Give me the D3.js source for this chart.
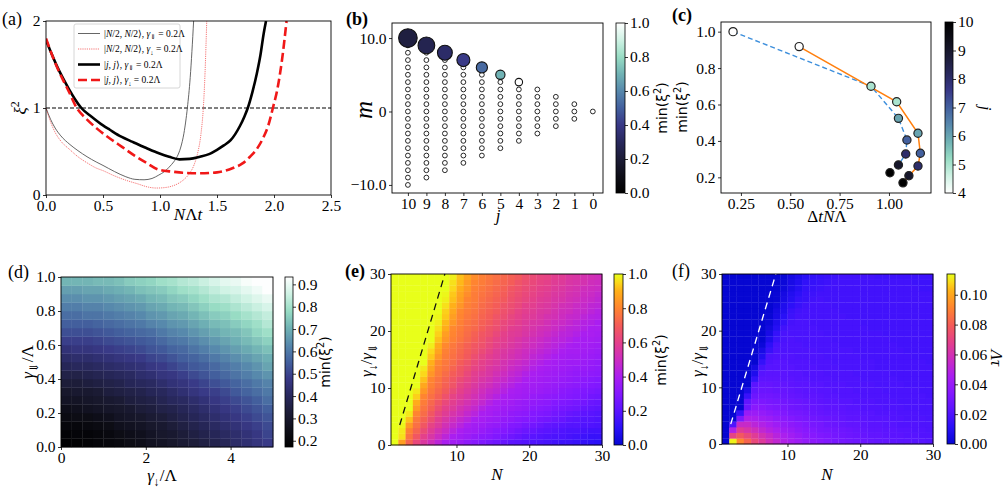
<!DOCTYPE html>
<html>
<head>
<meta charset="utf-8">
<script src="https://cdn.jsdelivr.net/npm/d3@7"></script>
<style>
body { margin: 0; background: #fff; }
</style>
</head>
<body>
<script>
var width = 1008, height = 495;
var serif = '"Liberation Serif", "DejaVu Serif", serif';
var sans = '"DejaVu Sans", sans-serif';
var FS = 15.5;

// ---------- data ----------
// (a) squeezing parameter vs N*Lambda*t
var aGrayT  = [0, 0.04, 0.08, 0.13, 0.21, 0.28, 0.36, 0.44, 0.5, 0.6, 0.7, 0.78, 0.86, 0.93, 0.99, 1.04, 1.08, 1.12, 1.15, 1.18, 1.21, 1.24, 1.265, 1.28, 1.295];
var aGrayXi = [1.0, 0.87, 0.77, 0.68, 0.58, 0.51, 0.44, 0.38, 0.34, 0.27, 0.21, 0.18, 0.175, 0.19, 0.23, 0.27, 0.32, 0.38, 0.44, 0.54, 0.71, 1.0, 1.35, 1.65, 2.0];
var aDotT   = [0, 0.04, 0.08, 0.13, 0.21, 0.28, 0.36, 0.44, 0.5, 0.6, 0.7, 0.8, 0.9, 0.97, 1.04, 1.1, 1.17, 1.22, 1.26, 1.3, 1.33, 1.36, 1.38, 1.395, 1.41];
var aDotXi  = [1.0, 0.84, 0.72, 0.62, 0.52, 0.44, 0.37, 0.31, 0.28, 0.22, 0.17, 0.13, 0.09, 0.08, 0.085, 0.1, 0.14, 0.19, 0.25, 0.35, 0.48, 0.71, 1.0, 1.4, 2.0];
var aBlackT  = [0, 0.05, 0.1, 0.15, 0.2, 0.25, 0.31, 0.4, 0.5, 0.56, 0.66, 0.76, 0.88, 0.99, 1.08, 1.17, 1.26, 1.35, 1.43, 1.5, 1.56, 1.62, 1.66, 1.7, 1.74, 1.77, 1.81, 1.85, 1.88, 1.91, 1.93];
var aBlackXi = [1.78, 1.62, 1.47, 1.34, 1.22, 1.11, 1.0, 0.9, 0.8, 0.75, 0.67, 0.61, 0.54, 0.48, 0.44, 0.41, 0.415, 0.44, 0.47, 0.52, 0.57, 0.63, 0.7, 0.79, 0.9, 1.0, 1.18, 1.4, 1.6, 1.86, 2.0];
var aRedT  = [0, 0.05, 0.1, 0.15, 0.2, 0.27, 0.35, 0.45, 0.56, 0.67, 0.78, 0.88, 0.99, 1.1, 1.2, 1.35, 1.5, 1.64, 1.72, 1.79, 1.85, 1.91, 1.95, 1.99, 2.03, 2.07, 2.11];
var aRedXi = [1.8, 1.62, 1.46, 1.32, 1.19, 1.0, 0.88, 0.76, 0.65, 0.55, 0.45, 0.37, 0.29, 0.27, 0.255, 0.25, 0.26, 0.31, 0.36, 0.44, 0.53, 0.67, 0.8, 1.0, 1.22, 1.55, 2.0];
var aXTicks = [0, 0.5, 1.0, 1.5, 2.0, 2.5];
var aYTicks = [0, 1, 2];

// (b) Dicke ladder, (c) min squeezing vs time of minimum
var bJ = [10, 9, 8, 7, 6, 5, 4, 3, 2, 1, 0];
var cJ = [4, 5, 6, 7, 8, 9, 10];
var cBlueT = [0.21, 0.909, 1.048, 1.091, 1.085, 1.048, 1.005];
var cBlueXi = [1.0, 0.70, 0.524, 0.405, 0.328, 0.268, 0.225];
var cOrangeT = [0.545, 1.039, 1.147, 1.159, 1.147, 1.101, 1.071];
var cOrangeXi = [0.918, 0.615, 0.442, 0.332, 0.262, 0.209, 0.170];

// (d) min squeezing over gamma_down/Lambda (cols) and gamma_collective/Lambda (rows, bottom->top)
var dMin = [
  [.18,.18,.19,.20,.21,.22,.24,.25,.27,.28,.30,.32,.33,.35,.37,.39,.42,.44,.46,.48],
  [.19,.20,.20,.21,.22,.24,.25,.26,.28,.30,.31,.33,.35,.37,.39,.41,.43,.45,.47,.50],
  [.21,.21,.22,.23,.24,.26,.27,.28,.30,.31,.33,.35,.37,.39,.41,.43,.45,.47,.49,.51],
  [.23,.24,.24,.25,.26,.28,.29,.30,.32,.33,.35,.37,.39,.41,.43,.45,.47,.49,.51,.53],
  [.25,.26,.27,.28,.29,.30,.31,.33,.34,.36,.37,.39,.41,.43,.45,.47,.49,.51,.53,.55],
  [.28,.28,.29,.30,.31,.32,.34,.35,.36,.38,.40,.41,.43,.45,.47,.49,.51,.53,.55,.58],
  [.30,.31,.31,.32,.34,.35,.36,.37,.39,.40,.42,.44,.46,.48,.49,.51,.54,.56,.58,.60],
  [.33,.33,.34,.35,.36,.37,.39,.40,.41,.43,.45,.46,.48,.50,.52,.54,.56,.58,.60,.62],
  [.36,.36,.37,.38,.39,.40,.41,.43,.44,.46,.47,.49,.51,.53,.55,.57,.59,.61,.63,.65],
  [.39,.40,.40,.41,.42,.43,.44,.45,.47,.48,.50,.52,.54,.55,.57,.59,.61,.63,.65,.68],
  [.42,.43,.43,.44,.45,.46,.47,.48,.50,.51,.53,.55,.56,.58,.60,.62,.64,.66,.68,.70],
  [.45,.46,.46,.47,.48,.49,.50,.51,.53,.54,.56,.57,.59,.61,.63,.65,.67,.69,.71,.73],
  [.49,.49,.49,.50,.51,.52,.53,.54,.55,.57,.59,.60,.62,.64,.66,.68,.70,.72,.74,.76],
  [.52,.52,.52,.53,.54,.55,.56,.57,.58,.60,.62,.63,.65,.67,.69,.71,.72,.74,.77,.79],
  [.55,.55,.55,.56,.57,.58,.59,.60,.62,.63,.65,.66,.68,.70,.72,.73,.75,.77,.79,.82],
  [.58,.58,.59,.59,.60,.61,.62,.63,.65,.66,.68,.69,.71,.73,.75,.76,.78,.80,.82,.84],
  [.61,.61,.62,.62,.63,.64,.65,.66,.68,.69,.71,.72,.74,.76,.78,.79,.81,.83,.85,.87],
  [.64,.64,.65,.65,.66,.67,.68,.69,.71,.72,.74,.75,.77,.79,.81,.82,.84,.86,.88,.90],
  [.67,.67,.68,.68,.69,.70,.71,.73,.74,.75,.77,.79,.80,.82,.84,.86,.87,.89,.91,.93],
  [.71,.71,.71,.72,.72,.73,.75,.76,.77,.79,.80,.82,.83,.85,.87,.89,.90,.92,.93,.93]
];

// (e) min squeezing, columns N = 2..30, rows gamma ratio 0..29 (bottom->top)
var eMin = [
  [1,.86,.72,.63,.56,.51,.45,.40,.38,.36,.33,.31,.29,.27,.25,.23,.21,.20,.19,.18,.17,.16,.15,.14,.14,.13,.12,.11,.10],
  [1,.96,.76,.68,.60,.55,.50,.45,.40,.38,.36,.34,.32,.31,.29,.27,.25,.23,.21,.20,.19,.18,.17,.17,.16,.15,.14,.13,.13],
  [1,.97,.79,.72,.64,.58,.53,.49,.44,.40,.38,.37,.35,.33,.31,.30,.28,.26,.24,.23,.21,.20,.19,.18,.17,.17,.16,.15,.15],
  [1,.99,.85,.75,.68,.61,.57,.52,.48,.44,.40,.38,.37,.35,.34,.32,.30,.29,.27,.26,.24,.22,.21,.20,.19,.19,.18,.18,.17],
  [1,1,.92,.77,.71,.65,.59,.55,.51,.47,.44,.40,.39,.37,.36,.34,.33,.31,.30,.29,.27,.26,.24,.23,.21,.20,.19,.19,.18],
  [1,1,.97,.80,.74,.68,.62,.58,.54,.51,.47,.44,.40,.39,.37,.36,.34,.33,.32,.30,.29,.28,.26,.25,.23,.22,.21,.20,.19],
  [1,1,1,.85,.76,.71,.65,.60,.57,.53,.50,.47,.43,.40,.39,.37,.36,.35,.34,.32,.31,.30,.28,.27,.26,.25,.23,.22,.21],
  [1,1,1,.89,.78,.73,.68,.63,.59,.56,.53,.50,.47,.43,.40,.39,.38,.36,.35,.34,.33,.32,.30,.29,.28,.27,.26,.24,.23],
  [1,1,1,.94,.80,.75,.71,.66,.61,.58,.55,.52,.49,.46,.43,.40,.39,.38,.37,.35,.34,.33,.32,.31,.30,.29,.28,.26,.25],
  [1,1,1,.97,.84,.77,.73,.69,.64,.60,.57,.54,.51,.48,.46,.43,.40,.39,.38,.37,.36,.35,.34,.32,.31,.30,.29,.28,.27],
  [1,1,1,1,.88,.79,.75,.71,.67,.62,.59,.56,.53,.51,.48,.45,.43,.40,.39,.38,.37,.36,.35,.34,.33,.32,.31,.30,.29],
  [1,1,1,1,.92,.80,.76,.72,.68,.64,.61,.58,.55,.53,.50,.48,.45,.43,.40,.39,.38,.37,.36,.35,.34,.33,.32,.31,.30],
  [1,1,1,1,.95,.84,.78,.74,.70,.67,.63,.59,.57,.55,.52,.50,.47,.45,.42,.40,.39,.38,.37,.36,.35,.34,.34,.33,.32],
  [1,1,1,1,.97,.87,.79,.76,.72,.68,.65,.61,.59,.56,.54,.52,.49,.47,.45,.42,.40,.39,.38,.37,.36,.35,.35,.34,.33],
  [1,1,1,1,1,.90,.81,.77,.74,.70,.67,.63,.60,.58,.56,.53,.51,.49,.47,.44,.42,.40,.39,.38,.37,.37,.36,.35,.34],
  [1,1,1,1,1,.93,.84,.78,.75,.72,.69,.65,.62,.59,.57,.55,.53,.51,.49,.46,.44,.42,.40,.39,.38,.38,.37,.36,.35],
  [1,1,1,1,1,.95,.87,.79,.76,.73,.70,.67,.64,.61,.58,.56,.54,.52,.50,.48,.46,.44,.42,.40,.39,.39,.38,.37,.36],
  [1,1,1,1,1,.98,.89,.81,.77,.74,.71,.68,.66,.63,.60,.58,.56,.54,.52,.50,.48,.46,.44,.42,.40,.39,.39,.38,.37],
  [1,1,1,1,1,1,.92,.84,.79,.76,.73,.70,.67,.64,.61,.59,.57,.55,.53,.51,.49,.47,.45,.44,.42,.40,.39,.39,.38],
  [1,1,1,1,1,1,.94,.86,.80,.77,.74,.71,.68,.66,.63,.60,.58,.57,.55,.53,.51,.49,.47,.45,.44,.42,.40,.40,.39],
  [1,1,1,1,1,1,.96,.89,.81,.78,.75,.73,.70,.67,.65,.62,.59,.58,.56,.54,.52,.51,.49,.47,.45,.44,.42,.40,.40],
  [1,1,1,1,1,1,.98,.91,.84,.79,.76,.74,.71,.69,.66,.63,.61,.59,.57,.55,.54,.52,.50,.49,.47,.45,.43,.42,.40],
  [1,1,1,1,1,1,.99,.93,.86,.80,.77,.75,.72,.70,.67,.65,.62,.60,.58,.57,.55,.53,.52,.50,.48,.47,.45,.43,.42],
  [1,1,1,1,1,1,1,.94,.88,.81,.78,.76,.73,.71,.69,.66,.64,.61,.59,.58,.56,.55,.53,.51,.50,.48,.47,.45,.43],
  [1,1,1,1,1,1,1,.96,.90,.84,.79,.77,.74,.72,.70,.67,.65,.63,.60,.59,.57,.56,.54,.52,.51,.49,.48,.46,.45],
  [1,1,1,1,1,1,1,.98,.92,.86,.80,.78,.75,.73,.71,.69,.66,.64,.62,.60,.58,.57,.55,.54,.52,.51,.49,.48,.46],
  [1,1,1,1,1,1,1,.99,.93,.87,.82,.78,.76,.74,.72,.70,.67,.65,.63,.61,.59,.58,.56,.55,.53,.52,.50,.49,.47],
  [1,1,1,1,1,1,1,1,.95,.89,.84,.79,.77,.75,.73,.71,.68,.66,.64,.62,.60,.59,.57,.56,.54,.53,.51,.50,.49],
  [1,1,1,1,1,1,1,1,.96,.91,.85,.80,.78,.76,.74,.72,.70,.67,.65,.63,.61,.60,.58,.57,.55,.54,.53,.51,.50],
  [1,1,1,1,1,1,1,1,.98,.92,.87,.82,.79,.77,.75,.73,.71,.69,.66,.64,.62,.61,.59,.58,.56,.55,.53,.52,.51]
];

// (f) Lambda*tau in units of 1e-3, same grid as (e)
var fTauMilli = [
  [0,112,92,82,72,65,58,53,48,45,42,39,37,35,33,31,30,29,28,27,26,25,25,24,23,23,22,22,21],
  [0,70,78,72,66,60,55,50,46,43,40,37,35,33,32,30,29,28,27,26,25,25,24,23,23,22,22,21,21],
  [0,48,66,62,58,53,49,46,42,40,37,35,33,31,30,29,28,27,26,25,24,24,23,23,22,22,21,21,20],
  [0,20,55,55,51,48,45,42,39,37,35,33,31,30,28,27,26,25,25,24,23,23,22,22,21,21,21,20,20],
  [0,0,32,47,46,43,41,38,36,34,32,31,29,28,27,26,25,24,24,23,22,22,22,21,21,20,20,20,19],
  [0,0,14,40,41,39,37,35,33,31,30,29,27,26,25,25,24,23,23,22,22,21,21,21,20,20,20,19,19],
  [0,0,0,28,36,35,33,32,31,29,28,27,26,25,24,24,23,22,22,21,21,21,20,20,20,19,19,19,19],
  [0,0,0,25,32,32,31,30,29,28,27,26,25,24,23,23,22,22,21,21,21,20,20,20,19,19,19,19,19],
  [0,0,0,15,28,29,29,28,27,26,25,24,24,23,22,22,21,21,21,20,20,20,20,19,19,19,19,19,18],
  [0,0,0,7,25,27,27,26,26,25,24,23,23,22,22,21,21,21,20,20,20,20,19,19,19,19,19,18,18],
  [0,0,0,0,23,26,26,25,25,24,23,23,22,22,21,21,21,20,20,20,20,19,19,19,19,18,18,18,18],
  [0,0,0,0,14,24,24,24,23,23,22,22,21,21,21,20,20,20,20,19,19,19,19,19,18,18,18,18,18],
  [0,0,0,0,8,22,23,23,23,22,22,21,21,21,20,20,20,20,19,19,19,19,19,18,18,18,18,18,18],
  [0,0,0,0,5,19,22,22,22,22,21,21,21,20,20,20,19,19,19,19,19,18,18,18,18,18,18,18,18],
  [0,0,0,0,0,14,21,22,22,21,21,21,20,20,20,19,19,19,19,19,19,18,18,18,18,18,18,18,17],
  [0,0,0,0,0,9,20,21,21,21,20,20,20,20,19,19,19,19,19,18,18,18,18,18,18,18,17,17,17],
  [0,0,0,0,0,6,15,20,20,20,20,20,20,19,19,19,19,19,18,18,18,18,18,18,18,17,17,17,17],
  [0,0,0,0,0,2,12,19,20,20,20,19,19,19,19,19,18,18,18,18,18,18,18,18,17,17,17,17,17],
  [0,0,0,0,0,0,8,16,19,20,19,19,19,19,19,18,18,18,18,18,18,18,18,17,17,17,17,17,17],
  [0,0,0,0,0,0,6,14,19,19,19,19,19,19,18,18,18,18,18,18,18,18,17,17,17,17,17,17,17],
  [0,0,0,0,0,0,4,10,17,19,19,19,19,18,18,18,18,18,18,18,17,17,17,17,17,17,17,17,17],
  [0,0,0,0,0,0,2,8,14,18,19,19,18,18,18,18,18,18,18,17,17,17,17,17,17,17,17,17,17],
  [0,0,0,0,0,0,1,6,11,16,18,18,18,18,18,18,18,17,17,17,17,17,17,17,17,17,17,17,17],
  [0,0,0,0,0,0,0,5,9,15,17,18,18,18,18,18,17,17,17,17,17,17,17,17,17,17,17,17,17],
  [0,0,0,0,0,0,0,3,8,12,15,17,18,18,18,17,17,17,17,17,17,17,17,17,17,17,17,17,17],
  [0,0,0,0,0,0,0,1,6,10,14,15,17,18,17,17,17,17,17,17,17,17,17,17,17,17,17,17,17],
  [0,0,0,0,0,0,0,1,5,9,12,15,16,17,17,17,17,17,17,17,17,17,17,17,17,17,17,17,17],
  [0,0,0,0,0,0,0,0,3,7,10,14,15,16,17,17,17,17,17,17,17,17,17,17,17,17,17,16,16],
  [0,0,0,0,0,0,0,0,2,6,9,13,14,15,16,17,17,17,17,17,17,17,17,17,17,17,16,16,16],
  [0,0,0,0,0,0,0,0,1,5,8,11,13,14,15,16,17,17,17,17,17,16,16,16,16,16,16,16,16]
];
var eN = d3.range(2, 31);
var eR = d3.range(0, 30);
var boundN = [2.2, 8.4];
var boundR = [3.5, 30];

// ---------- colour maps ----------
var iceStops = [[0, "#000000"], [0.1, "#0e0e18"], [0.2, "#1c1c36"], [0.3, "#28285c"], [0.4, "#383886"],
  [0.5, "#43609e"], [0.6, "#5788ac"], [0.7, "#70b2b4"], [0.8, "#98dcc4"], [0.9, "#cff2e4"], [1, "#ffffff"]];
var hotStops = [[0, "#0606d2"], [0.1, "#2a10f8"], [0.2, "#5a14ff"], [0.3, "#8418ff"], [0.4, "#aa1ef0"],
  [0.5, "#cc2cc0"], [0.6, "#e4408a"], [0.7, "#f45c58"], [0.8, "#ff8430"], [0.9, "#ffb018"], [0.95, "#fbd81a"], [1, "#e8ff1a"]];
function cmap(stops) {
  return d3.scaleLinear().domain(stops.map(function(s) { return s[0]; }))
    .range(stops.map(function(s) { return s[1]; }))
    .interpolate(d3.interpolateRgb).clamp(true);
}
var ice = cmap(iceStops), hot = cmap(hotStops);

var svg = d3.select("body").append("svg")
    .attr("width", width).attr("height", height)
    .style("font-family", serif);
var defs = svg.append("defs");

// ---------- helpers ----------
function rich(sel, parts, size) {
  var shift = 0;
  parts.forEach(function(p) {
    var kind = p[1] || "";
    var target = kind === "sub" ? size * 0.28 : kind === "sup" ? -size * 0.4 : 0;
    var ts = sel.append("tspan").text(p[0]).attr("dy", target - shift);
    if (kind === "sub" || kind === "sup") ts.attr("font-size", size * 0.7);
    if (p[2]) ts.attr("font-style", "italic");
    shift = target;
  });
  return sel;
}
function label(x, y, rot, parts, size, family) {
  var t = svg.append("text")
      .attr("transform", "translate(" + x + "," + y + ") rotate(" + rot + ")")
      .attr("text-anchor", "middle")
      .attr("font-size", size)
      .attr("font-family", family || serif);
  return rich(t, parts, size);
}
function styleAxis(g) {
  g.select(".domain").remove();
  g.selectAll(".tick line").attr("stroke", "#000").attr("stroke-width", 0.8);
  g.selectAll(".tick text").attr("font-family", serif).attr("font-size", FS).attr("fill", "#000");
}
function frame(x, y) {
  svg.append("rect")
      .attr("x", x.range()[0]).attr("y", y.range()[1])
      .attr("width", x.range()[1] - x.range()[0]).attr("height", y.range()[0] - y.range()[1])
      .attr("fill", "none").attr("stroke", "#000").attr("stroke-width", 0.9);
}
function axes(x, y, xt, yt, xf, yf) {
  var gx = svg.append("g").attr("transform", "translate(0," + y.range()[0] + ")")
      .call(d3.axisBottom(x).tickValues(xt).tickFormat(xf).tickSize(3).tickPadding(2));
  styleAxis(gx);
  var gy = svg.append("g").attr("transform", "translate(" + x.range()[0] + ",0)")
      .call(d3.axisLeft(y).tickValues(yt).tickFormat(yf).tickSize(3).tickPadding(2.5));
  styleAxis(gy);
  frame(x, y);
}
function colorbar(id, x0, x1, y0, y1, domain, colorFn, ticks, fmt) {
  var grad = defs.append("linearGradient").attr("id", id)
      .attr("x1", 0).attr("y1", 1).attr("x2", 0).attr("y2", 0);
  d3.range(0, 1.0001, 0.025).forEach(function(t) {
    grad.append("stop").attr("offset", t).attr("stop-color", colorFn(domain[0] + t * (domain[1] - domain[0])));
  });
  svg.append("rect").attr("x", x0).attr("y", y0).attr("width", x1 - x0).attr("height", y1 - y0)
      .attr("fill", "url(#" + id + ")").attr("stroke", "#000").attr("stroke-width", 0.8);
  var s = d3.scaleLinear().domain(domain).range([y1, y0]);
  var g = svg.append("g").attr("transform", "translate(" + x1 + ",0)")
      .call(d3.axisRight(s).tickValues(ticks).tickFormat(fmt).tickSize(3).tickPadding(2));
  styleAxis(g);
}
var xi2 = [["ξ", "", true], ["2", "sup"]];
var minXi = [["min("], ["ξ"], ["2", "sup"], [")", ""]];

// ---------- (a) ----------
var xA = d3.scaleLinear().domain([0, 2.5]).range([46, 331]);
var yA = d3.scaleLinear().domain([0, 2]).range([195, 21]);
defs.append("clipPath").attr("id", "clipA").append("rect")
    .attr("x", 46).attr("y", 21).attr("width", 285).attr("height", 174);
var gA = svg.append("g").attr("clip-path", "url(#clipA)");
var lineA = d3.line().x(function(d) { return xA(d[0]); }).y(function(d) { return yA(d[1]); })
    .curve(d3.curveMonotoneX);
gA.append("line").attr("x1", xA(0)).attr("x2", xA(2.5)).attr("y1", yA(1)).attr("y2", yA(1))
    .attr("stroke", "#000").attr("stroke-width", 1).attr("stroke-dasharray", "4,2");
var aCurves = [
  { t: aGrayT, v: aGrayXi, color: "#555", w: 0.9, dash: null },
  { t: aDotT, v: aDotXi, color: "#f03a3a", w: 0.7, dash: "1.2,1" },
  { t: aBlackT, v: aBlackXi, color: "#000", w: 2.6, dash: null },
  { t: aRedT, v: aRedXi, color: "#f01818", w: 2.6, dash: "9,4" }
];
aCurves.forEach(function(c) {
  gA.append("path").datum(d3.zip(c.t, c.v)).attr("d", lineA)
      .attr("fill", "none").attr("stroke", c.color).attr("stroke-width", c.w)
      .attr("stroke-dasharray", c.dash);
});
axes(xA, yA, aXTicks, aYTicks, d3.format(".1f"), d3.format("d"));
// legend
svg.append("rect").attr("x", 74).attr("y", 24).attr("width", 106).attr("height", 64).attr("rx", 2)
    .attr("fill", "#fff").attr("fill-opacity", 0.85).attr("stroke", "#ccc").attr("stroke-width", 0.8);
var legTexts = [
  [["|"], ["N", "", true], ["/2, "], ["N", "", true], ["/2⟩, "], ["γ", "", true], ["⇓", "sub"], [" = 0.2Λ", ""]],
  [["|"], ["N", "", true], ["/2, "], ["N", "", true], ["/2⟩, "], ["γ", "", true], ["↓", "sub"], [" = 0.2Λ", ""]],
  [["|"], ["j, j", "", true], ["⟩, "], ["γ", "", true], ["⇓", "sub"], [" = 0.2Λ", ""]],
  [["|"], ["j, j", "", true], ["⟩, "], ["γ", "", true], ["↓", "sub"], [" = 0.2Λ", ""]]
];
aCurves.forEach(function(c, i) {
  var y = 33.5 + i * 15.5;
  svg.append("line").attr("x1", 78).attr("x2", 100).attr("y1", y).attr("y2", y)
      .attr("stroke", c.color).attr("stroke-width", c.w).attr("stroke-dasharray", c.dash);
  var t = svg.append("text").attr("x", 104).attr("y", y + 3).attr("font-size", 9.5);
  rich(t, legTexts[i], 9.5);
});
label(188, 220, 0, [["N", "", true], ["Λ"], ["t", "", true]], 17);
label(26, 108, -90, xi2, 17);

// ---------- (b) ----------
var xB = d3.scaleLinear().domain([10.86, -0.55]).range([392, 603]);
var yB = d3.scaleLinear().domain([-11.1, 12.05]).range([193, 23]);
var rB = d3.scaleLinear().domain([0, 10]).range([0, 9.3]);
var small = [];
bJ.forEach(function(j) {
  d3.range(-j, j + 1).forEach(function(m) {
    if (!(m === j && cJ.indexOf(j) >= 0)) small.push({ j: j, m: m });
  });
});
svg.selectAll(".bsmall").data(small).enter().append("circle")
    .attr("cx", function(d) { return xB(d.j); })
    .attr("cy", function(d) { return yB(d.m); })
    .attr("r", 2.4)
    .attr("fill", "#fff").attr("stroke", "#111").attr("stroke-width", 0.9);
var big = cJ.map(function(j, i) { return { j: j, v: cBlueXi[i] }; });
svg.selectAll(".bbig").data(big).enter().append("circle")
    .attr("cx", function(d) { return xB(d.j); })
    .attr("cy", function(d) { return yB(d.j); })
    .attr("r", function(d) { return rB(d.j); })
    .attr("fill", function(d) { return ice(d.v); })
    .attr("stroke", "#111").attr("stroke-width", 1.1);
axes(xB, yB, bJ, [10, 0, -10], d3.format("d"), function(d) { return d === 0 ? "0" : d3.format(".1f")(d); });
colorbar("cbB", 616, 625, 23, 193, [0, 1], ice, [0, 0.2, 0.4, 0.6, 0.8, 1.0], d3.format(".1f"));
label(372, 110, -90, [["m", "", true]], 25);
label(498, 221, 0, [["j", "", true]], 17);
label(667, 108, -90, minXi, 14, sans);

// ---------- (c) ----------
var xC = d3.scaleLinear().domain([0.149, 1.213]).range([721, 931]);
var yC = d3.scaleLinear().domain([0.114, 1.053]).range([193, 22]);
var jColor = function(j) { return ice(1 - (j - 4) / 6); };
var lineC = d3.line().x(function(d) { return xC(d[0]); }).y(function(d) { return yC(d[1]); });
svg.append("path").datum(d3.zip(cBlueT, cBlueXi)).attr("d", lineC)
    .attr("fill", "none").attr("stroke", "#3d8fdc").attr("stroke-width", 1.4).attr("stroke-dasharray", "5,3");
svg.append("path").datum(d3.zip(cOrangeT, cOrangeXi)).attr("d", lineC)
    .attr("fill", "none").attr("stroke", "#ff7f0e").attr("stroke-width", 1.5);
[[cBlueT, cBlueXi], [cOrangeT, cOrangeXi]].forEach(function(s) {
  svg.append("g").selectAll("circle").data(cJ).enter().append("circle")
      .attr("cx", function(d, i) { return xC(s[0][i]); })
      .attr("cy", function(d, i) { return yC(s[1][i]); })
      .attr("r", 4.1)
      .attr("fill", function(d) { return jColor(d); })
      .attr("stroke", "#222").attr("stroke-width", 1.2);
});
axes(xC, yC, [0.25, 0.5, 0.75, 1.0], [0.2, 0.4, 0.6, 0.8, 1.0], d3.format(".2f"), d3.format(".1f"));
colorbar("cbC", 945, 953, 22, 193, [4, 10], jColor, [4, 5, 6, 7, 8, 9, 10], d3.format("d"));
label(687, 107, -90, minXi, 14, sans);
label(827, 222, 0, [["Δ"], ["tN", "", true], ["Λ"]], 17);
label(980, 108, 90, [["j", "", true]], 17);

// ---------- (d) ----------
var xD = d3.scaleLinear().domain([0, 5]).range([61, 273]);
var yD = d3.scaleLinear().domain([0, 1]).range([447, 277]);
var dDom = [0.172, 0.933];
var dNorm = function(v) { return ice((v - dDom[0]) / (dDom[1] - dDom[0])); };
var dCells = [];
dMin.forEach(function(row, r) { row.forEach(function(v, i) { dCells.push({ i: i, r: r, v: v }); }); });
svg.append("g").selectAll("rect").data(dCells).enter().append("rect")
    .attr("x", function(d) { return xD(d.i * 0.25); })
    .attr("y", function(d) { return yD((d.r + 1) * 0.05); })
    .attr("width", xD(0.25) - xD(0) + 0.3)
    .attr("height", yD(0) - yD(0.05) + 0.3)
    .attr("fill", function(d) { return dNorm(d.v); });
axes(xD, yD, [0, 2, 4], [0, 0.2, 0.4, 0.6, 0.8, 1.0], d3.format("d"), d3.format(".1f"));
colorbar("cbD", 285, 293, 277, 447, dDom, function(v) { return dNorm(v); }, [0.2, 0.3, 0.4, 0.5, 0.6, 0.7, 0.8, 0.9], d3.format(".1f"));
label(33, 362, -90, [["γ", "", true], ["⇓", "sub"], ["/Λ", ""]], 17);
label(162, 481, 0, [["γ", "", true], ["↓", "sub"], ["/Λ", ""]], 17);
label(330, 362, -90, minXi, 14, sans);

// ---------- (e) and (f) ----------
function heat(left, right, top, bottom, grid, colorFn, id) {
  var x = d3.scaleLinear().domain([1, 30]).range([left, right]);
  var y = d3.scaleLinear().domain([0, 30]).range([bottom, top]);
  var cells = [];
  grid.forEach(function(row, r) { row.forEach(function(v, i) { cells.push({ n: eN[i], r: eR[r], v: v }); }); });
  svg.append("g").attr("id", id).selectAll("rect").data(cells).enter().append("rect")
      .attr("x", function(d) { return x(d.n - 1); })
      .attr("y", function(d) { return y(d.r + 1); })
      .attr("width", x(2) - x(1) + 0.3)
      .attr("height", y(0) - y(1) + 0.3)
      .attr("fill", function(d) { return colorFn(d.v); });
  return { x: x, y: y };
}
var sE = heat(391, 602, 274, 445, eMin, function(v) { return hot(v); }, "heatE");
svg.append("path").datum(d3.zip(boundN, boundR))
    .attr("d", d3.line().x(function(d) { return sE.x(d[0]); }).y(function(d) { return sE.y(d[1]); }))
    .attr("stroke", "#111").attr("stroke-width", 1.3).attr("stroke-dasharray", "7,5").attr("fill", "none");
axes(sE.x, sE.y, [10, 20, 30], [0, 10, 20, 30], d3.format("d"), d3.format("d"));
colorbar("cbE", 614, 623, 274, 445, [0, 1], hot, [0, 0.2, 0.4, 0.6, 0.8, 1.0], d3.format(".1f"));
label(372, 360, -90, [["γ", "", true], ["↓", "sub"], ["/", ""], ["γ", "", true], ["⇓", "sub"]], 17);
label(497, 480, 0, [["N", "", true]], 17);
label(666, 360, -90, minXi, 14, sans);

var fMax = 0.1139;
var sF = heat(722, 933, 274, 444, fTauMilli, function(v) { return hot(v / 1000 / fMax); }, "heatF");
svg.append("path").datum(d3.zip(boundN, boundR))
    .attr("d", d3.line().x(function(d) { return sF.x(d[0]); }).y(function(d) { return sF.y(d[1]); }))
    .attr("stroke", "#fff").attr("stroke-width", 1.3).attr("stroke-dasharray", "7,5").attr("fill", "none");
axes(sF.x, sF.y, [10, 20, 30], [0, 10, 20, 30], d3.format("d"), d3.format("d"));
colorbar("cbF", 947, 955, 274, 444, [0, fMax], function(v) { return hot(v / fMax); }, [0, 0.02, 0.04, 0.06, 0.08, 0.1], d3.format(".2f"));
label(703, 360, -90, [["γ", "", true], ["↓", "sub"], ["/", ""], ["γ", "", true], ["⇓", "sub"]], 17);
label(827, 480, 0, [["N", "", true]], 17);
label(991, 358, 90, [["Λτ", "", true]], 17);

// ---------- panel tags ----------
[["(a)", 2, 25, 400], ["(b)", 346, 25, 700], ["(c)", 672, 21, 700],
 ["(d)", 8, 278, 400], ["(e)", 345, 277, 700], ["(f)", 672, 277, 400]].forEach(function(p) {
  svg.append("text").attr("x", p[1]).attr("y", p[2]).attr("font-size", 18)
      .attr("font-weight", p[3]).text(p[0]);
});
</script>
</body>
</html>
